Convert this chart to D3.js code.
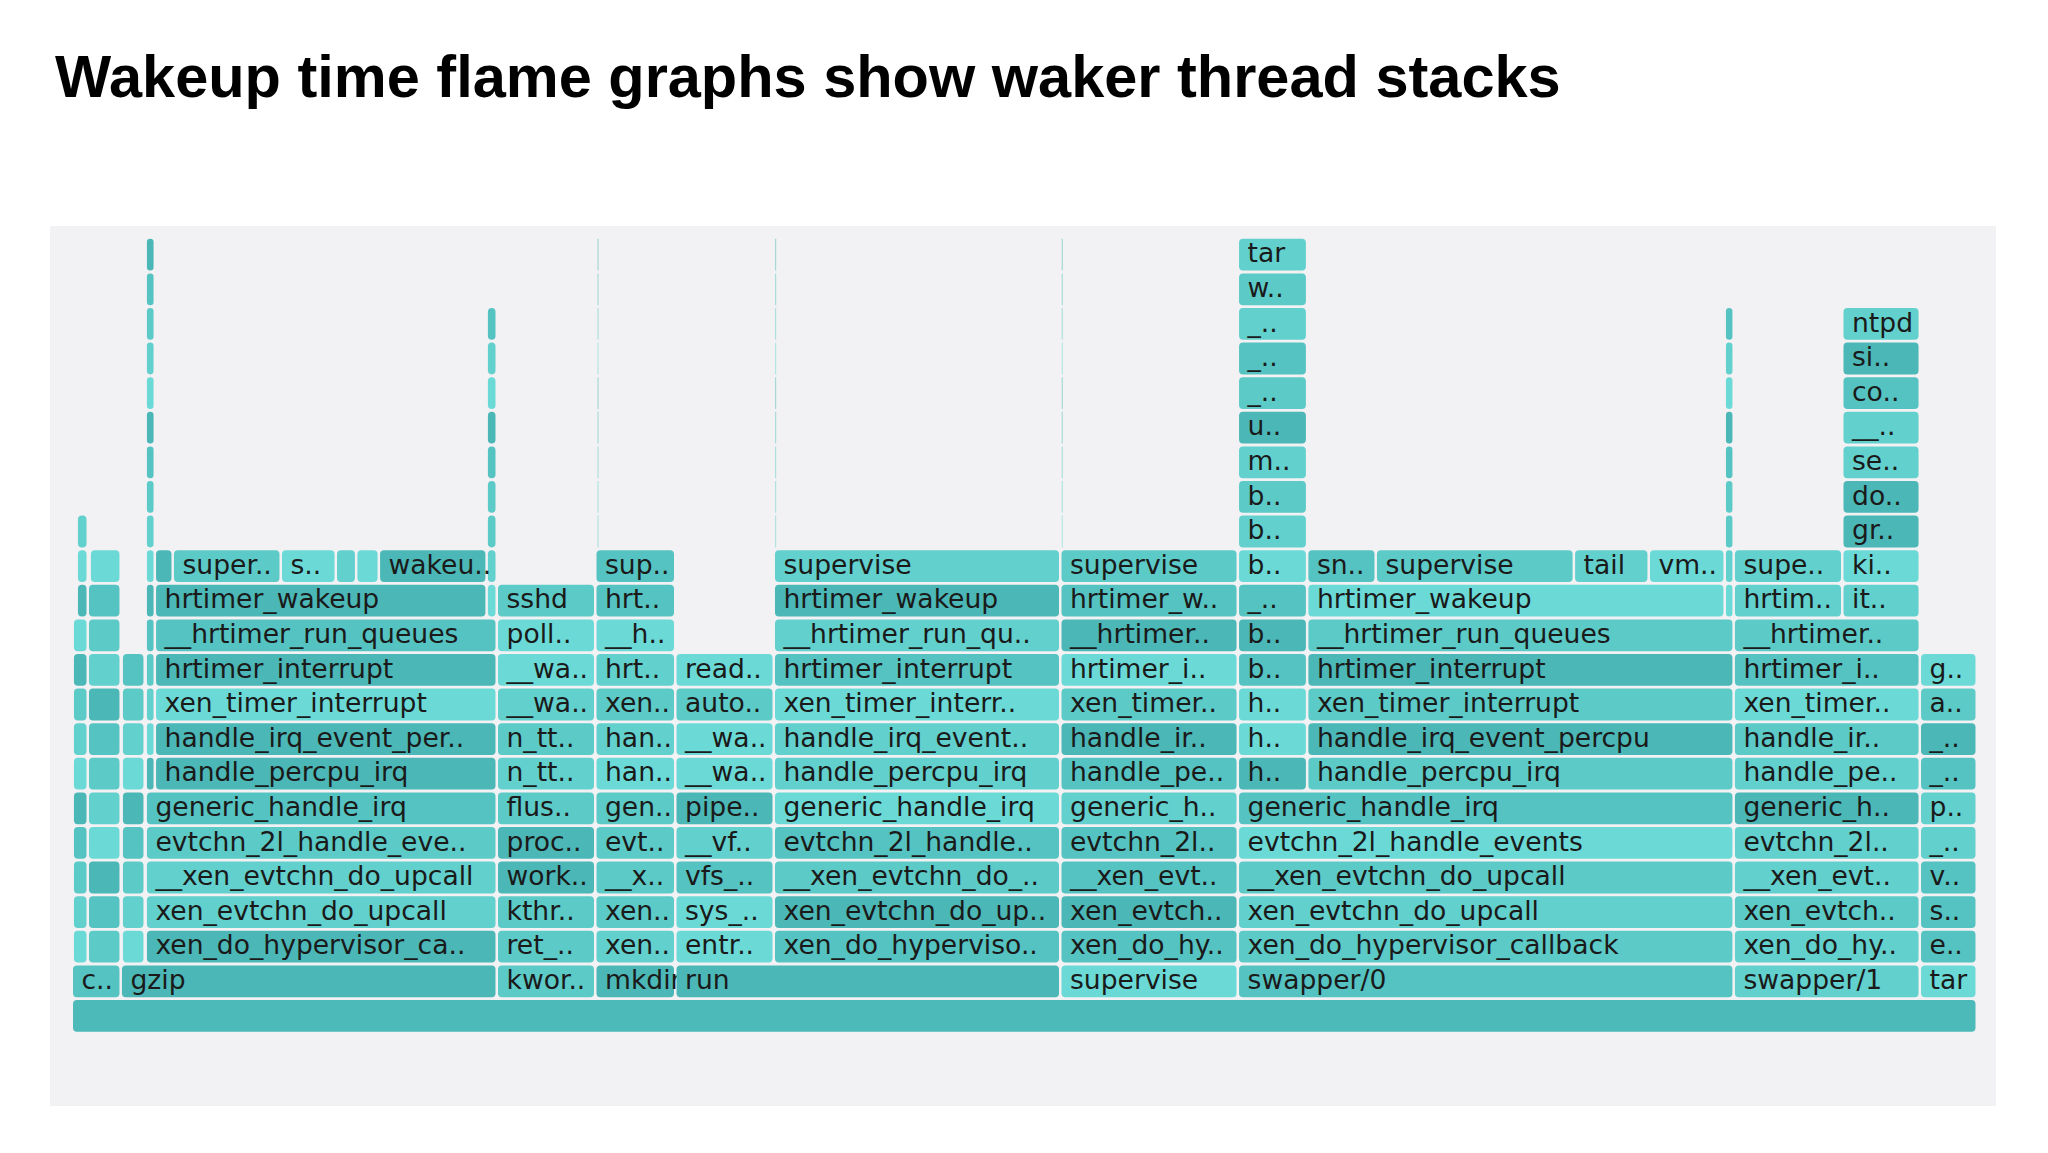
<!DOCTYPE html>
<html>
<head>
<meta charset="utf-8">
<script src="https://cdn.jsdelivr.net/npm/d3@7"></script>
<style>
  html, body { margin: 0; padding: 0; background: #ffffff; }
  svg { display: block; }
  .title { font-family: "Liberation Sans", Arial, sans-serif; font-weight: bold; fill: #000; }
  .frame-label { font-family: "DejaVu Sans", Verdana, sans-serif; fill: #1a1a1a; }
</style>
</head>
<body>
<div id="chart"></div>
<script>
// sample offsets are per-mille of all wakeups; depth 0 is the root
const processNames  = ["c..", "gzip", "kwor..", "mkdir", "run", "supervise", "swapper/0", "swapper/1", "tar"];
const processBounds = [0, 25.7, 223.1, 274.8, 316.8, 518.9, 612.1, 872.4, 970.1, 1000];

const blank = n => Array(n).fill("");

// each stack: [first depth, start, end, labels bottom -> top]
const cpuLeftA   = [2, 0.5, 8.4, blank(10)];
const cpuLeftA2  = [12, 2.6, 8.4, blank(3)];
const cpuLeftB   = [2, 8.4, 25.7, blank(11)];
const cpuLeftB2  = [13, 9.4, 25.7, blank(1)];
const gzipSide   = [2, 26.2, 38.3, blank(9)];
const gzipLow    = [2, 38.8, 223.1, ["xen_do_hypervisor_ca..", "xen_evtchn_do_upcall", "__xen_evtchn_do_upcall", "evtchn_2l_handle_eve..", "generic_handle_irq"]];
const gzipThinL  = [7, 38.8, 43.6, blank(16)];
const gzipTimer  = [7, 43.6, 223.1, ["handle_percpu_irq", "handle_irq_event_per..", "xen_timer_interrupt", "hrtimer_interrupt", "__hrtimer_run_queues"]];
const gzipWake   = [12, 43.6, 217.8, ["hrtimer_wakeup"]];
const gzipThinR  = [12, 217.8, 223.1, blank(9)];
const kworker    = [2, 223.1, 274.8, ["ret_..", "kthr..", "work..", "proc..", "flus..", "n_tt..", "n_tt..", "__wa..", "__wa..", "poll..", "sshd"]];
const mkdirStack = [2, 274.8, 316.8, ["xen..", "xen..", "__x..", "evt..", "gen..", "han..", "han..", "xen..", "hrt..", "__h..", "hrt..", "sup.."]];
const mkdirHair  = [14, 275.3, 276.2, blank(9)];
const runRead    = [2, 316.8, 368.5, ["entr..", "sys_..", "vfs_..", "__vf..", "pipe..", "__wa..", "__wa..", "auto..", "read.."]];
const runTimer   = [2, 368.5, 518.9, ["xen_do_hyperviso..", "xen_evtchn_do_up..", "__xen_evtchn_do_..", "evtchn_2l_handle..", "generic_handle_irq", "handle_percpu_irq", "handle_irq_event..", "xen_timer_interr..", "hrtimer_interrupt", "__hrtimer_run_qu..", "hrtimer_wakeup", "supervise"]];
const runHair    = [14, 368.5, 369.4, blank(9)];
const superStack = [2, 518.9, 612.1, ["xen_do_hy..", "xen_evtch..", "__xen_evt..", "evtchn_2l..", "generic_h..", "handle_pe..", "handle_ir..", "xen_timer..", "hrtimer_i..", "__hrtimer..", "hrtimer_w..", "supervise"]];
const superHair  = [14, 519.0, 519.9, blank(9)];
const swap0Low   = [2, 612.1, 872.4, ["xen_do_hypervisor_callback", "xen_evtchn_do_upcall", "__xen_evtchn_do_upcall", "evtchn_2l_handle_events", "generic_handle_irq"]];
const swap0Tar   = [7, 612.1, 648.5, ["h..", "h..", "h..", "b..", "b..", "_..", "b..", "b..", "b..", "m..", "u..", "_..", "_..", "_..", "w..", "tar"]];
const swap0Timer = [7, 648.5, 872.4, ["handle_percpu_irq", "handle_irq_event_percpu", "xen_timer_interrupt", "hrtimer_interrupt", "__hrtimer_run_queues"]];
const swap0Wake  = [12, 648.5, 867.7, ["hrtimer_wakeup"]];
const swap0Thin  = [12, 867.7, 872.4, blank(9)];
const swap1Low   = [2, 872.4, 970.1, ["xen_do_hy..", "xen_evtch..", "__xen_evt..", "evtchn_2l..", "generic_h..", "handle_pe..", "handle_ir..", "xen_timer..", "hrtimer_i..", "__hrtimer.."]];
const swap1Wake  = [12, 872.4, 929.4, ["hrtim..", "supe.."]];
const swap1Ntpd  = [12, 929.4, 970.1, ["it..", "ki..", "gr..", "do..", "se..", "__..", "co..", "si..", "ntpd"]];
const tarStack   = [2, 970.1, 1000, ["e..", "s..", "v..", "_..", "p..", "_..", "_..", "a..", "g.."]];

// woken threads sitting side by side on one level: [depth, bounds, labels]
const gzipWoken  = [13, [43.6, 53.0, 109.7, 138.6, 149.3, 161.2, 217.8], ["", "super..", "s..", "", "", "wakeu.."]];
const swap0Woken = [13, [648.5, 684.5, 788.5, 827.8, 867.7], ["sn..", "supervise", "tail", "vm.."]];

const stacks = [cpuLeftA, cpuLeftA2, cpuLeftB, cpuLeftB2, gzipSide, gzipLow, gzipThinL, gzipTimer, gzipWake, gzipThinR,
  kworker, mkdirStack, mkdirHair, runRead, runTimer, runHair, superStack, superHair,
  swap0Low, swap0Tar, swap0Timer, swap0Wake, swap0Thin, swap1Low, swap1Wake, swap1Ntpd, tarStack];
const rows = [gzipWoken, swap0Woken];

// flatten everything into frames
const frames = [{name: "", depth: 0, start: 0, end: 1000}];
processNames.forEach((n, i) => frames.push({name: n, depth: 1, start: processBounds[i], end: processBounds[i + 1]}));
stacks.forEach(([d0, s, e, labels]) => labels.forEach((n, i) => frames.push({name: n, depth: d0 + i, start: s, end: e})));
rows.forEach(([d, bounds, labels]) => labels.forEach((n, i) => frames.push({name: n, depth: d, start: bounds[i], end: bounds[i + 1]})));

const W = 2048, H = 1153;
const svg = d3.select("#chart").append("svg").attr("width", W).attr("height", H);

svg.append("text").attr("class", "title")
  .attr("x", 55).attr("y", 97)
  .style("font-size", "59.5px")
  .text("Wakeup time flame graphs show waker thread stacks");

// grey panel behind the flame graph
svg.append("rect").attr("x", 50).attr("y", 226).attr("width", 1946).attr("height", 880).attr("fill", "#f2f1f3");

const x = d3.scaleLinear().domain([0, 1000]).range([72, 1977]);
const y = d3.scaleLinear().domain([0, 22]).range([1000, 238.8]);
const rowH = 31.8;

const palette = ["#6bdad7", "#62d0cd", "#5ccac7", "#55c3c1", "#4bb7b6"];
function shade(f) {
  const key = f.name + "|" + f.depth + "|" + f.start;
  let h = 7;
  for (let i = 0; i < key.length; i++) h = (h * 31 + key.charCodeAt(i)) >>> 0;
  return palette[h % palette.length];
}

const g = svg.append("g").attr("class", "flame");
const cells = g.selectAll("g.frame").data(frames).enter().append("g").attr("class", "frame");

cells.append("rect")
  .attr("x", d => x(d.start) + 1)
  .attr("y", d => y(d.depth))
  .attr("width", d => Math.max(1.2, x(d.end) - x(d.start) - 2.5))
  .attr("height", rowH)
  .attr("rx", d => Math.min(4, Math.max(0.5, (x(d.end) - x(d.start) - 2.5) / 2)))
  .attr("fill", d => d.depth === 0 ? "#4bbab9" : shade(d))
  .attr("opacity", d => (x(d.end) - x(d.start)) < 4 ? 0.45 : 1);

cells.filter(d => d.name !== "").append("text")
  .attr("class", "frame-label")
  .attr("x", d => x(d.start) + 9.5)
  .attr("y", d => y(d.depth) + 23.5)
  .style("font-size", "26.6px")
  .text(d => d.name);
</script>
</body>
</html>
